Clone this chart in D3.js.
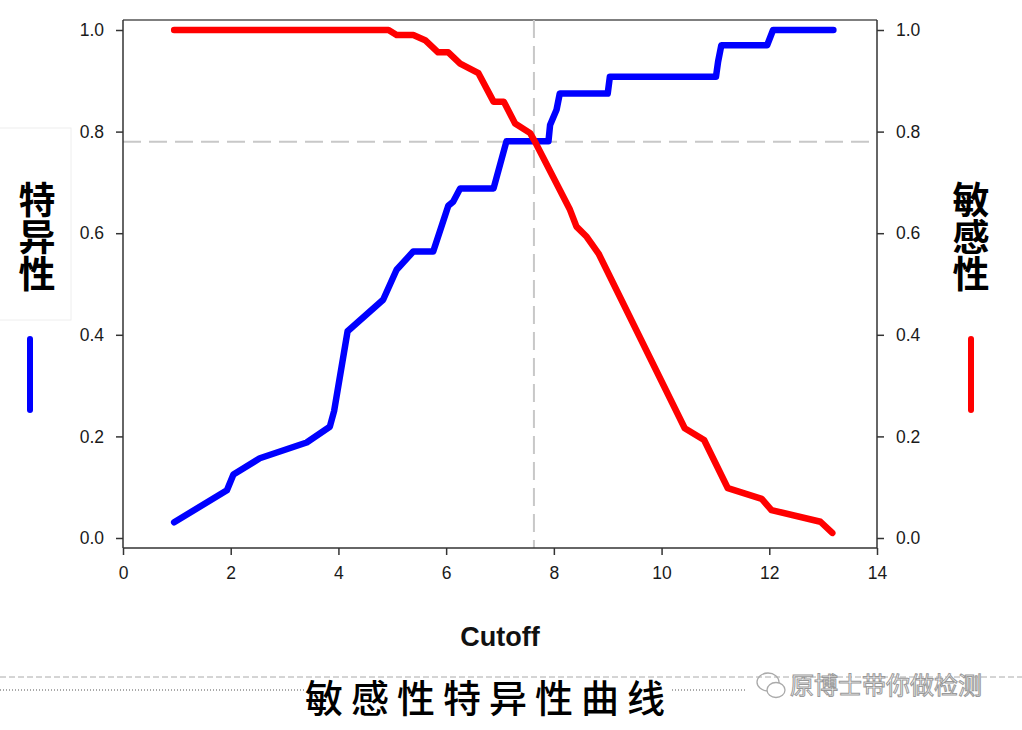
<!DOCTYPE html>
<html><head><meta charset="utf-8">
<script src="https://cdn.jsdelivr.net/npm/d3@7/dist/d3.min.js"></script>
<style>body{margin:0;background:#fff}svg{display:block}</style>
</head><body>
<svg id="c" width="1022" height="730"></svg>
<script>
// Specificity (blue)
const specX = [0.95,1.93,2.05,2.54,3.41,3.84,3.92,4.17,4.83,5.08,5.39,5.76,6.04,6.13,6.26,6.88,7.12,7.90,7.93,8.05,8.11,9.00,9.04,11.01,11.05,11.11,11.96,12.07,13.19];
const specY = [0.031,0.094,0.125,0.157,0.188,0.219,0.25,0.407,0.469,0.528,0.564,0.564,0.654,0.662,0.688,0.688,0.781,0.781,0.813,0.843,0.875,0.875,0.908,0.908,0.938,0.970,0.970,1.0,1.0];
// Sensitivity (red)
const sensX = [0.95,4.93,5.08,5.39,5.61,5.85,6.04,6.26,6.60,6.88,7.07,7.28,7.56,7.65,8.30,8.42,8.61,8.83,10.43,10.79,11.23,11.86,12.04,12.95,13.17];
const sensY = [1.0,1.0,0.990,0.990,0.980,0.956,0.956,0.934,0.915,0.859,0.859,0.816,0.797,0.780,0.646,0.613,0.593,0.560,0.216,0.193,0.098,0.077,0.055,0.032,0.010];
const xTicks = [0,2,4,6,8,10,12,14];
const yTicks = [0.0,0.2,0.4,0.6,0.8,1.0];
const cutX = 7.63, cutY = 0.78;
const xTitle = "Cutoff";
const leftTitle = "特异性", rightTitle = "敏感性";
const caption = "敏感性特异性曲线";
const watermark = "原博士带你做检测";

const svg = d3.select("#c");
const L = 123, R = 877, T = 20, B = 548;
const x = d3.scaleLinear().domain([0,14]).range([L,R]);
const y = d3.scaleLinear().domain([0,1]).range([538,30]);
const font = "'Liberation Sans', Arial, sans-serif";

// frame top
svg.append("line").attr("x1",L).attr("x2",R).attr("y1",T).attr("y2",T).attr("stroke","#555").attr("stroke-width",1.5);

// dashed reference lines
svg.append("line").attr("x1",L).attr("x2",R).attr("y1",y(cutY)).attr("y2",y(cutY))
  .attr("stroke","#c8c8c8").attr("stroke-width",2).attr("stroke-dasharray","18,8");
svg.append("line").attr("x1",x(cutX)).attr("x2",x(cutX)).attr("y1",T).attr("y2",B)
  .attr("stroke","#c8c8c8").attr("stroke-width",2).attr("stroke-dasharray","18,8");

// axes
const yL = d3.axisLeft(y).tickValues(yTicks).tickFormat(d3.format(".1f")).tickSize(7).tickPadding(12);
const yR = d3.axisRight(y).tickValues(yTicks).tickFormat(d3.format(".1f")).tickSize(7).tickPadding(12);
const xB = d3.axisBottom(x).tickValues(xTicks).tickFormat(d3.format("d")).tickSize(7).tickPadding(12);
function style(g){
  g.select(".domain").remove();
  g.selectAll(".tick line").attr("stroke","#333").attr("stroke-width",1.5);
  g.selectAll(".tick text").attr("fill","#1a1a1a").style("font-family",font).style("font-size","17.5px");
}
svg.append("g").attr("transform",`translate(${L},0)`).call(yL).call(style);
svg.append("g").attr("transform",`translate(${R},0)`).call(yR).call(style);
svg.append("g").attr("transform",`translate(0,${B})`).call(xB).call(style);
svg.append("line").attr("x1",L).attr("x2",L).attr("y1",T).attr("y2",B).attr("stroke","#333").attr("stroke-width",1.5);
svg.append("line").attr("x1",R).attr("x2",R).attr("y1",T).attr("y2",B).attr("stroke","#333").attr("stroke-width",1.5);
svg.append("line").attr("x1",L).attr("x2",R).attr("y1",B).attr("y2",B).attr("stroke","#333").attr("stroke-width",1.5);

// lines
const line = d3.line().x(d=>x(d[0])).y(d=>y(d[1]));
svg.append("path").datum(specX.map((v,i)=>[v,specY[i]])).attr("d",line)
  .attr("fill","none").attr("stroke","#0000ff").attr("stroke-width",6.5)
  .attr("stroke-linejoin","round").attr("stroke-linecap","round");
svg.append("path").datum(sensX.map((v,i)=>[v,sensY[i]])).attr("d",line)
  .attr("fill","none").attr("stroke","#ff0000").attr("stroke-width",6.5)
  .attr("stroke-linejoin","round").attr("stroke-linecap","round");

// x title
svg.append("text").attr("x",500).attr("y",646).attr("text-anchor","middle")
  .style("font-family",font).style("font-weight","bold").style("font-size","27px").attr("fill","#111").text(xTitle);

// side labels: single vertical text each
svg.append("rect").attr("x",-1).attr("y",128).attr("width",72).attr("height",192).attr("fill","none").attr("stroke","#eee");
function vlabel(cx, txt){
  svg.append("text").attr("x",cx).attr("y",181)
    .style("writing-mode","vertical-rl").style("text-orientation","upright")
    .style("font-family","'Noto Sans CJK SC', sans-serif").style("font-weight","bold").style("font-size","37px")
    .attr("fill","#000").text(txt);
}
vlabel(37, leftTitle);
vlabel(971, rightTitle);
svg.append("line").attr("x1",30).attr("x2",30).attr("y1",339).attr("y2",410).attr("stroke","#0000ff").attr("stroke-width",6).attr("stroke-linecap","round");
svg.append("line").attr("x1",971).attr("x2",971).attr("y1",339).attr("y2",410).attr("stroke","#ff0000").attr("stroke-width",6).attr("stroke-linecap","round");

// bottom separators
svg.append("line").attr("x1",0).attr("x2",1022).attr("y1",677).attr("y2",677).attr("stroke","#aaa").attr("stroke-width",1).attr("stroke-dasharray","6,3");
svg.append("line").attr("x1",0).attr("x2",306).attr("y1",690).attr("y2",690).attr("stroke","#555").attr("stroke-width",1).attr("stroke-dasharray","1,2");
svg.append("line").attr("x1",672).attr("x2",745).attr("y1",690).attr("y2",690).attr("stroke","#555").attr("stroke-width",1).attr("stroke-dasharray","1,2");

// caption
svg.append("text").attr("x",489).attr("y",712).attr("text-anchor","middle")
  .style("font-family","'Noto Sans CJK SC', serif").style("font-weight","500").style("font-size","38px")
  .style("letter-spacing","8px").attr("fill","#000").text(caption);

// watermark
const wm = svg.append("g").attr("fill","none").attr("stroke","#aaa").attr("stroke-width",1.3);
wm.append("ellipse").attr("cx",768).attr("cy",682).attr("rx",11).attr("ry",9);
wm.append("ellipse").attr("cx",776).attr("cy",690).attr("rx",9).attr("ry",7.5).attr("fill","#fff");
svg.append("text").attr("x",790).attr("y",694).style("font-family","'Noto Sans CJK SC', sans-serif")
  .style("font-size","24px").attr("fill","#fff").attr("stroke","#999").attr("stroke-width",1).text(watermark);
</script>
</body></html>
